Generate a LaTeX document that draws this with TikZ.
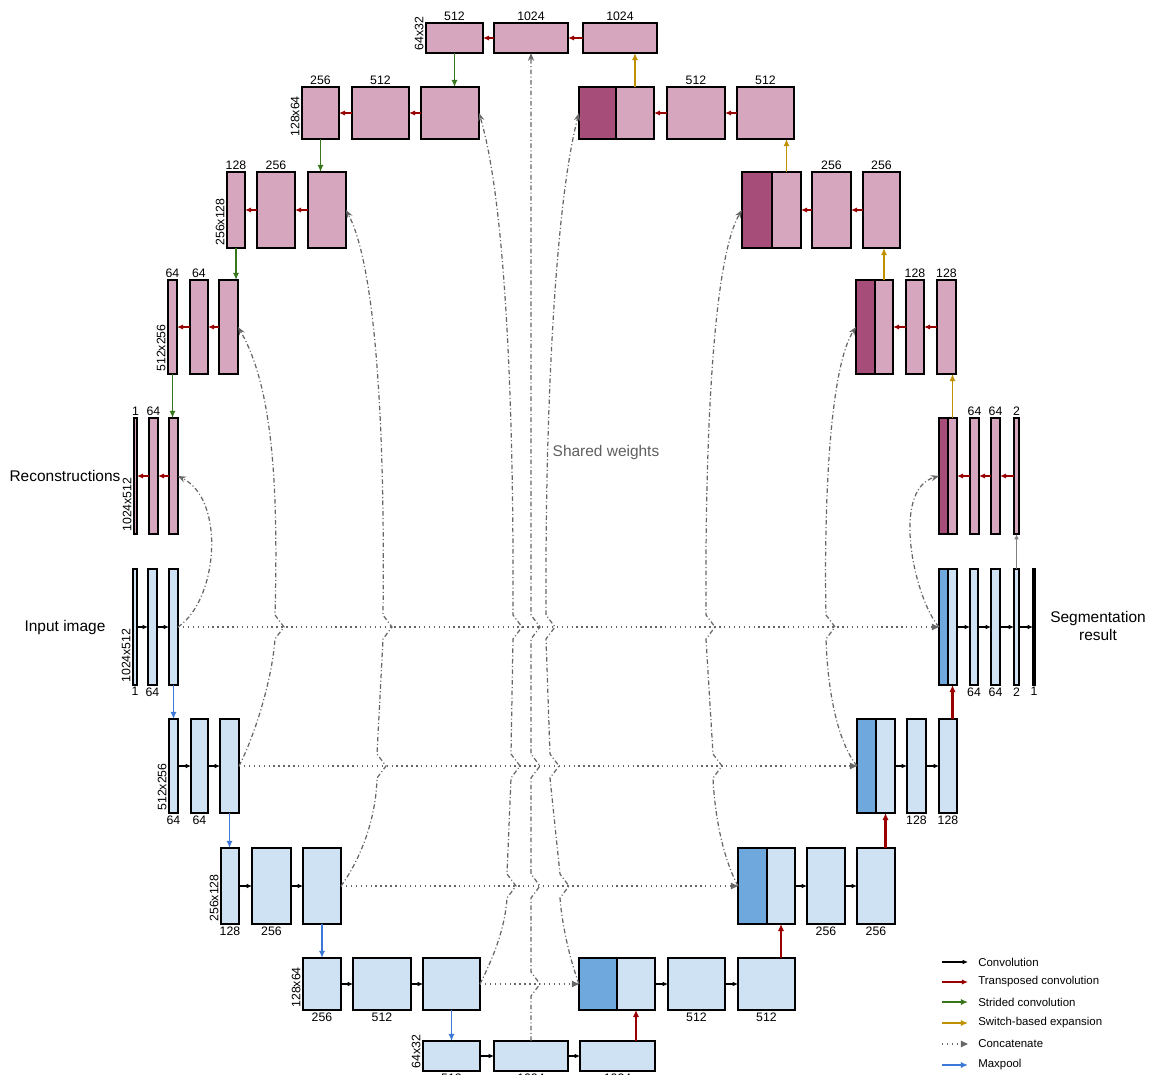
\documentclass[tikz,border=0pt]{standalone}
\usepackage{fontspec}
\setmainfont{Liberation Sans}
\usetikzlibrary{arrows.meta,positioning}
\definecolor{pinklight}{HTML}{D5A6BD}
\definecolor{pinkdark}{HTML}{A64D79}
\definecolor{bluelight}{HTML}{CFE2F3}
\definecolor{bluedark}{HTML}{6FA8DC}
\definecolor{tconvred}{HTML}{990000}
\definecolor{stridegreen}{HTML}{38761D}
\definecolor{switchgold}{HTML}{BF9000}
\definecolor{poolblue}{HTML}{3C78D8}
\definecolor{linegray}{HTML}{666666}
\definecolor{textgray}{HTML}{5F5F5F}
\tikzset{
  blk/.style={draw=black,line width=1.1pt,inner sep=0pt,outer sep=0pt},
  numlbl/.style={font=\fontsize{7}{8}\selectfont,inner sep=1.2pt},
  dimlbl/.style={font=\fontsize{7}{8}\selectfont,inner sep=1.2pt,rotate=90,anchor=south west},
  bigtxt/.style={font=\fontsize{8.8}{10.5}\selectfont,align=center},
  legtxt/.style={font=\fontsize{6.5}{7.5}\selectfont,anchor=west,inner sep=0pt},
  conv/.style={-{Latex[length=3pt,width=2.6pt]},line width=.65pt,draw=black},
  tconv/.style={-{Latex[length=3.5pt,width=3pt]},line width=.9pt,draw=tconvred},
  strided/.style={-{Latex[length=4pt,width=3.5pt]},line width=1pt,draw=stridegreen},
  switchexp/.style={-{Latex[length=4pt,width=3.5pt]},line width=1pt,draw=switchgold},
  pool/.style={-{Latex[length=4pt,width=3.5pt]},line width=1pt,draw=poolblue},
  concat/.style={-{Triangle[length=4pt,width=3.5pt]},line width=.8pt,draw=linegray,dash pattern=on .8pt off 2pt},
  shared/.style={-{Stealth[length=4.5pt,width=3.5pt]},line width=.7pt,draw=linegray,dash pattern=on 2.6pt off 1.4pt on .6pt off 1.4pt},
  hop/.style args={#1/#2}{insert path={-- (#1,#2+12) -- (#1+9,#2) -- (#1,#2-12)}},
}

\begin{document}
\begin{tikzpicture}[x=0.02cm,y=-0.02cm]
  \useasboundingbox (0,0) rectangle (1161,1075);
  % blocks: row centre / height / {name/left/right/fill}
  \foreach \yc/\hh/\lst in {
    627/116/{in0a/133/137/bluelight,in0b/148/157/bluelight,in0c/169/178/bluelight,seg0x/939/948/bluedark,seg0a/948/957/bluelight,seg0b/970/978/bluelight,seg0c/991/1000/bluelight,seg0d/1014/1019/bluelight,seg0e/1033/1035/bluelight},
    766/94/{in1a/169/178/bluelight,in1b/191/208/bluelight,in1c/220/239/bluelight,seg1x/857/876/bluedark,seg1a/876/895/bluelight,seg1b/907/926/bluelight,seg1c/939/957/bluelight},
    886/76/{in2a/221/239/bluelight,in2b/252/291/bluelight,in2c/303/341/bluelight,seg2x/738/767/bluedark,seg2a/767/795/bluelight,seg2b/807/845/bluelight,seg2c/857/895/bluelight},
    984/52/{in3a/303/341/bluelight,in3b/353/411/bluelight,in3c/423/480/bluelight,seg3x/579/617/bluedark,seg3a/617/655/bluelight,seg3b/668/725/bluelight,seg3c/738/795/bluelight},
    1056/30/{in4a/423/480/bluelight,in4b/494/568/bluelight,in4c/580/655/bluelight},
    476/116/{rec0a/134/137/pinklight,rec0b/149/158/pinklight,rec0c/169/178/pinklight,up0x/939/948/pinkdark,up0a/948/957/pinklight,up0b/970/979/pinklight,up0c/991/1000/pinklight,up0d/1014/1019/pinklight},
    327/94/{rec1a/168/177/pinklight,rec1b/190/208/pinklight,rec1c/219/238/pinklight,up1x/856/875/pinkdark,up1a/875/893/pinklight,up1b/906/924/pinklight,up1c/937/956/pinklight},
    210/76/{rec2a/227/245/pinklight,rec2b/257/295/pinklight,rec2c/308/346/pinklight,up2x/742/772/pinkdark,up2a/772/801/pinklight,up2b/812/851/pinklight,up2c/863/900/pinklight},
    113/52/{rec3a/302/339/pinklight,rec3b/352/409/pinklight,rec3c/421/479/pinklight,up3x/579/616/pinkdark,up3a/616/654/pinklight,up3b/667/725/pinklight,up3c/737/794/pinklight},
    38/30/{rec4a/426/483/pinklight,rec4b/494/568/pinklight,rec4c/583/657/pinklight}}
    \foreach \nm/\xa/\xb/\fc in \lst
      \node[blk,fill=\fc,minimum width={(\xb-\xa)*0.02cm},minimum height={\hh*0.02cm}] (\nm) at ({(\xa+\xb)/2},\yc) {};

  % channel counts
  \foreach \nm/\lab in {in0a/1,in0b/64,seg0b/64,seg0c/64,seg0d/2,seg0e/1,in1a/64,in1b/64,seg1b/128,seg1c/128,
      in2a/128,in2b/256,seg2b/256,seg2c/256,in3a/256,in3b/512,seg3b/512,seg3c/512,in4a/512,in4b/1024,in4c/1024}
    \node[numlbl,anchor=north] (t-\nm) at (\nm.south) {\lab};
  \foreach \nm/\lab in {rec0a/1,rec0b/64,up0b/64,up0c/64,up0d/2,rec1a/64,rec1b/64,up1b/128,up1c/128,
      rec2a/128,rec2b/256,up2b/256,up2c/256,rec3a/256,rec3b/512,up3b/512,up3c/512,rec4a/512,rec4b/1024,rec4c/1024}
    \node[numlbl,anchor=south] (t-\nm) at (\nm.north) {\lab};
  % resolutions
  \foreach \nm/\lab in {in0a/1024x512,in1a/512x256,in2a/256x128,in3a/128x64,in4a/64x32,
      rec0a/1024x512,rec1a/512x256,rec2a/256x128,rec3a/128x64,rec4a/64x32}
    \node[dimlbl] (d-\nm) at (\nm.south west) {\lab};

  % arrows inside rows
  \foreach \a/\b in {in0a/in0b,in0b/in0c,in1a/in1b,in1b/in1c,in2a/in2b,in2b/in2c,in3a/in3b,in3b/in3c,in4a/in4b,in4b/in4c,
      seg0a/seg0b,seg0b/seg0c,seg0c/seg0d,seg0d/seg0e,seg1a/seg1b,seg1b/seg1c,seg2a/seg2b,seg2b/seg2c,seg3a/seg3b,seg3b/seg3c}
    \draw[conv] (\a) -- (\b);
  \foreach \a/\b in {rec0c/rec0b,rec0b/rec0a,rec1c/rec1b,rec1b/rec1a,rec2c/rec2b,rec2b/rec2a,rec3c/rec3b,rec3b/rec3a,rec4c/rec4b,rec4b/rec4a,
      up0d/up0c,up0c/up0b,up0b/up0a,up1c/up1b,up1b/up1a,up2c/up2b,up2b/up2a,up3c/up3b,up3b/up3a}
    \draw[tconv] (\a) -- (\b);

  % arrows between rows
  \foreach \a/\b in {in0c/in1a,in1c/in2a,in2c/in3a,in3c/in4a}
    \draw[pool] (\a.south) -- (\a.south |- \b.north);
  \foreach \a/\b in {in4c/seg3a,seg3c/seg2a,seg2c/seg1a,seg1c/seg0a}
    \draw[tconv,line width=1.2pt,-{Latex[length=4pt,width=3.6pt]}] (\b.south |- \a.north) -- (\b.south);
  \foreach \a/\b in {rec4a/rec3c,rec3a/rec2c,rec2a/rec1c,rec1a/rec0c}
    \draw[strided] (\a.south) -- (\a.south |- \b.north);
  \foreach \a/\b in {up0a/up1c,up1a/up2c,up2a/up3c,up3a/rec4c}
    \draw[switchexp] (\a.north) -- (\a.north |- \b.south);
  \draw[-{Latex[length=3pt,width=2.6pt]},line width=.65pt,draw=gray] (seg0d.north) -- (up0d.south);

  % skip connections
  \foreach \a/\b in {in0c/seg0x,in1c/seg1x,in2c/seg2x,in3c/seg3x}
    \draw[concat] (\a.east) -- (\b.west);

  % shared weights
  \draw[shared] (in0c.east) .. controls (218,600) and (226,500) .. (rec0c.east);
  \draw[shared] (in1c.east) .. controls (255,735) and (272,680) .. (275,639) [hop=275/627]
    .. controls (278,500) and (275,390) .. (rec1c.east);
  \draw[shared] (in2c.east) .. controls (360,860) and (376,820) .. (377,778) [hop=377/766]
    -- (383,639) [hop=383/627] .. controls (385,450) and (378,270) .. (rec2c.east);
  \draw[shared] (in3c.east) .. controls (492,960) and (505,930) .. (507,898) [hop=507/886]
    -- (511,778) [hop=511/766] -- (513,639) [hop=513/627] .. controls (514,400) and (505,200) .. (rec3c.east);
  \draw[shared] (in4b.north) [hop=531/984] [hop=531/886] [hop=531/766] [hop=531/627] -- (rec4b.south);
  \draw[shared] (seg3x.west) .. controls (570,960) and (562,925) .. (560,898) [hop=560/886]
    -- (550,778) [hop=550/766] -- (546,639) [hop=546/627] .. controls (545,400) and (556,200) .. (up3x.west);
  \draw[shared] (seg2x.west) .. controls (724,860) and (715,820) .. (713,778) [hop=713/766]
    -- (706,639) [hop=706/627] .. controls (705,450) and (712,260) .. (up2x.west);
  \draw[shared] (seg1x.west) .. controls (840,745) and (828,700) .. (826,639) [hop=826/627]
    .. controls (824,520) and (828,370) .. (up1x.west);
  \draw[shared] (seg0x.west) .. controls (915,600) and (890,490) .. (up0x.west);

  % texts
  \node[bigtxt] (recon) at (65,476) {Reconstructions};
  \node[bigtxt] (inimg) at (65,627) {Input image};
  \node[bigtxt] (segres) at (1098,626) {Segmentation\\result};
  \node[bigtxt,text=textgray] (shw) at (606,452) {Shared weights};

  % legend
  \foreach \yy/\st/\lab in {962/conv/Convolution,982/tconv/Transposed convolution,1002/strided/Strided convolution,
      1023/switchexp/Switch-based expansion,1044/concat/Concatenate,1065/pool/Maxpool}{
    \node[legtxt] (lg-\yy) at (978,\yy) {\lab};
    \draw[\st] ([xshift=-0.72cm]lg-\yy.west) -- ++(26,0);
  }
\end{tikzpicture}
\end{document}
